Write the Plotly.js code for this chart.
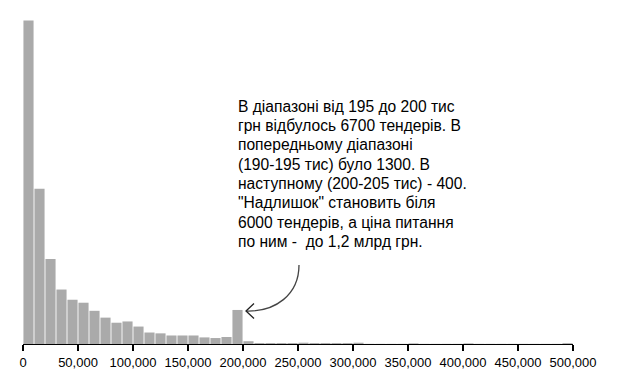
<!DOCTYPE html>
<html><head><meta charset="utf-8">
<script src="https://cdn.plot.ly/plotly-3.0.1.min.js"></script>
<style>html,body{margin:0;padding:0;background:#fff}#c{width:624px;height:390px}</style>
</head><body><div id="c"></div>
<script>
// bin starts (UAH), bin width 10,000
const binStarts = [0,10000,20000,30000,40000,50000,60000,70000,80000,90000,
  100000,110000,120000,130000,140000,150000,160000,170000,180000,190000,
  200000,210000,220000,230000,240000,250000,260000,270000,280000,290000,
  300000,310000,320000,330000,340000,350000,360000,370000,380000,390000,
  400000,410000,420000,430000,440000,450000,460000,470000,480000,490000];
const counts = [76000,36500,20000,12800,10400,9700,7800,6200,5000,5300,
  4100,2700,2500,2000,2000,2000,1550,1400,1650,8000,
  650,220,220,220,220,300,220,220,220,220,
  300,40,40,40,40,150,40,40,40,40,
  150,40,40,40,40,40,40,40,40,200];
const tickValues = [0,50000,100000,150000,200000,250000,300000,350000,400000,450000,500000];
const binWidth = 10000;
const noteLines = [
  'В діапазоні від 195 до 200 тис',
  'грн відбулось 6700 тендерів. В',
  'попередньому діапазоні',
  '(190-195 тис) було 1300. В',
  'наступному (200-205 тис) - 400.',
  '"Надлишок" становить біля',
  '6000 тендерів, а ціна питання',
  'по ним -  до 1,2 млрд грн.'
];

const L = 23, R = 51, T = 0, B = 46, W = 624, H = 390;
const pw = W - L - R, ph = H - T - B;
const px = v => (v - L) / pw;
const py = v => (H - B - v) / ph;

const trace = {
  type: 'bar',
  x: binStarts.map(s => s + binWidth / 2),
  y: counts,
  width: binWidth * 0.92,
  marker: {color: '#aaaaaa', line: {width: 0}},
  hoverinfo: 'skip'
};

const arrowPath = `M ${px(299)} ${py(265)} C ${px(299)} ${py(295)}, ${px(275)} ${py(312)}, ${px(246)} ${py(311)}`;
const headPath = `M ${px(254)} ${py(303.5)} L ${px(246)} ${py(311)} L ${px(254)} ${py(318.5)}`;

const lineStep = 19.4;
const annotations = noteLines.map((t, i) => ({
  xref: 'paper', yref: 'paper', x: px(236), y: py(106 + i * lineStep),
  xanchor: 'left', yanchor: 'middle', align: 'left', showarrow: false,
  text: t, font: {size: 15.6, color: '#000'}
}));

const layout = {
  width: W, height: H,
  margin: {l: L, r: R, t: T, b: B, pad: 0},
  paper_bgcolor: '#fff', plot_bgcolor: '#fff',
  showlegend: false,
  font: {family: 'Arial, "Liberation Sans", sans-serif', color: '#000'},
  xaxis: {
    range: [0, 500000], tickvals: tickValues, tickformat: ',d',
    showgrid: false, zeroline: false, showline: true, linecolor: '#000', linewidth: 1.3,
    ticks: 'outside', ticklen: 6, tickwidth: 1.3, tickcolor: '#000',
    tickfont: {size: 13, color: '#000'}, fixedrange: true
  },
  yaxis: {range: [0, 80840], visible: false, fixedrange: true},
  annotations: annotations,
  shapes: [
    {type: 'path', xref: 'paper', yref: 'paper', path: arrowPath, line: {color: '#444', width: 1.3}},
    {type: 'path', xref: 'paper', yref: 'paper', path: headPath, line: {color: '#222', width: 1.3}}
  ]
};
Plotly.newPlot('c', [trace], layout, {displayModeBar: false, staticPlot: true});
</script></body></html>
